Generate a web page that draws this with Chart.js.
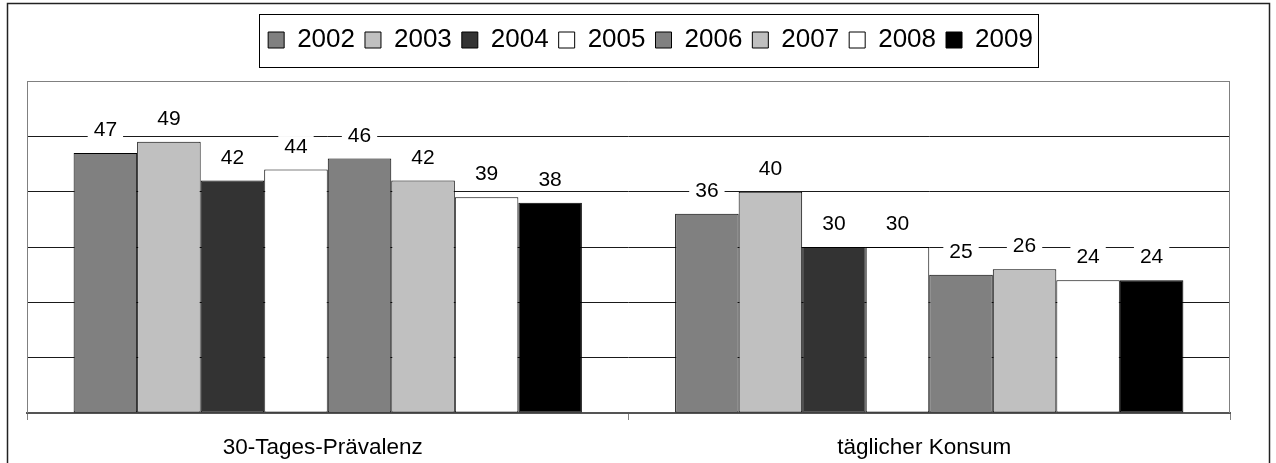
<!DOCTYPE html>
<html>
<head>
<meta charset="utf-8">
<script src="https://cdn.jsdelivr.net/npm/chart.js@4.4.1/dist/chart.umd.min.js"></script>
<style>
  body { margin: 0; background: #fff; }
  #wrap { width: 1276px; height: 463px; position: relative; }
</style>
</head>
<body>
<div id="wrap"><canvas id="chart"></canvas></div>
<script>
// Kategorien und Werte (in %)
const categories = ['30-Tages-Prävalenz', 'täglicher Konsum'];
const years = ['2002', '2003', '2004', '2005', '2006', '2007', '2008', '2009'];
const prevalence30 = [47, 49, 42, 44, 46, 42, 39, 38];
const dailyUse = [36, 40, 30, 30, 25, 26, 24, 24];
const yearColors = ['#808080', '#c0c0c0', '#333333', '#ffffff', '#808080', '#c0c0c0', '#ffffff', '#000000'];

const FONT = 'Arial, "Liberation Sans", sans-serif';

const datasets = years.map((y, i) => ({
  label: y,
  data: [prevalence30[i], dailyUse[i]],
  backgroundColor: yearColors[i],
  borderColor: '#000',
  borderWidth: 1,
  borderSkipped: false
}));

// Zusatz: Rahmen, Legendenbox, Werte mit weissem Hintergrund
const decorations = {
  id: 'decorations',
  afterInit(chart) {
    const legend = chart.legend;
    const fit = legend.fit;
    legend.fit = function () {
      fit.call(this);
      this.height += 18;
    };
  },
  afterLayout(chart) {
    chart.legend.left += 22;
    chart.legend.right += 22;
  },
  afterDatasetsDraw(chart) {
    const ctx = chart.ctx;
    ctx.save();
    ctx.font = '21px ' + FONT;
    ctx.textAlign = 'center';
    ctx.textBaseline = 'middle';
    chart.data.datasets.forEach((ds, i) => {
      chart.getDatasetMeta(i).data.forEach((bar, j) => {
        const txt = String(ds.data[j]);
        const w = ctx.measureText(txt).width + 12;
        const y = bar.y - 23.5;
        ctx.fillStyle = '#fff';
        ctx.fillRect(bar.x - w / 2, y - 10, w, 20);
        ctx.fillStyle = '#000';
        ctx.fillText(txt, bar.x, y + 1);
      });
    });
    ctx.restore();
  },
  afterDraw(chart) {
    const ctx = chart.ctx;
    const a = chart.chartArea;
    ctx.save();
    // Plotrahmen
    ctx.strokeStyle = '#808080';
    ctx.lineWidth = 1;
    ctx.beginPath();
    ctx.moveTo(a.left + 0.5, a.bottom);
    ctx.lineTo(a.left + 0.5, a.top + 0.5);
    ctx.lineTo(a.right - 0.5, a.top + 0.5);
    ctx.lineTo(a.right - 0.5, a.bottom);
    ctx.stroke();
    // Legendenbox
    const boxes = chart.legend.legendHitBoxes;
    const l = Math.min(...boxes.map(b => b.left)) - 9;
    const r = Math.max(...boxes.map(b => b.left + b.width)) + 5;
    ctx.strokeStyle = '#000';
    ctx.strokeRect(Math.round(l) + 0.5, chart.legend.top - 2.5, Math.round(r - l), 53);
    // Aussenrahmen
    ctx.lineWidth = 1.5;
    ctx.strokeStyle = '#222';
    ctx.strokeRect(7.5, 3.5, 1262, 600);
    ctx.restore();
  }
};

new Chart(document.getElementById('chart'), {
  type: 'bar',
  data: { labels: categories, datasets: datasets },
  options: {
    responsive: true,
    maintainAspectRatio: false,
    animation: false,
    categoryPercentage: 0.845,
    barPercentage: 1,
    layout: { padding: { left: 27, right: 46, top: 17, bottom: 3 } },
    plugins: {
      legend: {
        position: 'top',
        labels: {
          font: { size: 26, family: FONT },
          color: '#000',
          boxWidth: 16,
          boxHeight: 16,
          padding: 10
        }
      },
      tooltip: { enabled: false }
    },
    scales: {
      x: {
        afterFit(s) { s.height = 47; },
        grid: { drawOnChartArea: false, drawTicks: true, tickLength: 7, color: '#808080', offset: true },
        border: { color: '#555', width: 2 },
        ticks: { font: { size: 22.5, family: FONT }, color: '#000', padding: 14, labelOffset: -5 }
      },
      y: {
        min: 0,
        max: 60,
        afterFit(s) { s.width = 0; },
        ticks: { display: false, stepSize: 10 },
        grid: {
          drawTicks: false,
          color: ctx => (ctx.tick && ctx.tick.value === 60 ? '#808080' : '#1a1a1a')
        },
        border: { display: false }
      }
    }
  },
  plugins: [decorations]
});
</script>
</body>
</html>
